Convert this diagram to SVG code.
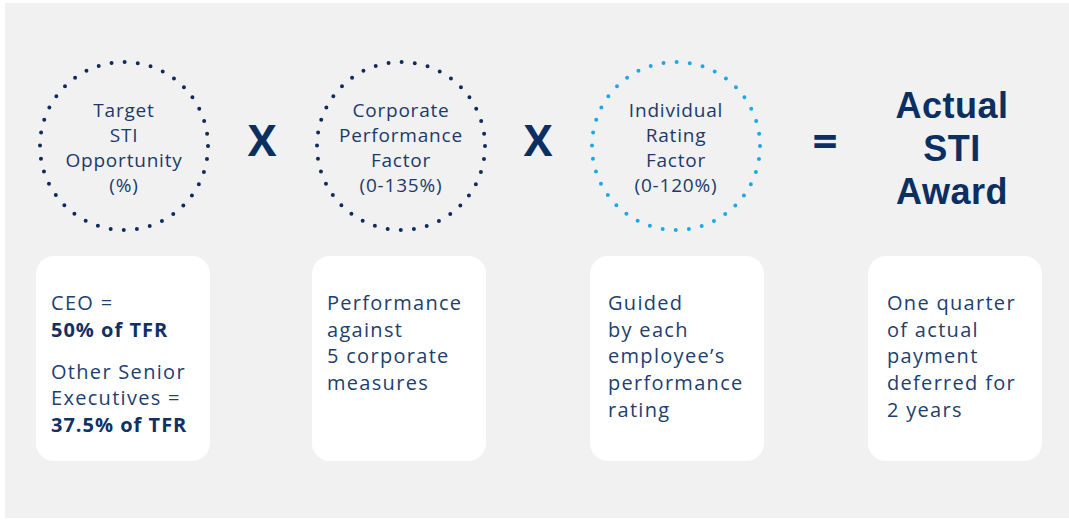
<svg xmlns="http://www.w3.org/2000/svg" width="1069" height="520" viewBox="0 0 1069 520">
<style>
.ring{fill:none;stroke-width:4;stroke-linecap:round;stroke-dasharray:0 13.195}
.navy{stroke:#0d2b5e}
.blue{stroke:#1ba8ea}
.ct{font-family:"Open Sans","Liberation Sans",sans-serif;font-size:19px;fill:#1b3a6a;text-anchor:middle;letter-spacing:0.8px}
.bt{font-family:"Open Sans","Liberation Sans",sans-serif;font-size:20px;fill:#1d406f;letter-spacing:1.3px}
.bb{font-weight:700;fill:#0f3263;letter-spacing:1px}
.box{fill:#ffffff}
.op{font-family:"Open Sans","Liberation Sans",sans-serif;font-weight:700;fill:#0b2f61;text-anchor:middle}
.aw{font-family:"Liberation Sans",Arial,sans-serif;font-weight:700;font-size:36px;fill:#0b2f61;text-anchor:middle;letter-spacing:0.5px}
</style>
<rect x="5" y="3" width="1064" height="515" fill="#f1f1f1"/>
<g id="target-sti">
<circle class="ring navy" cx="124" cy="146" r="84"/>
<text class="ct" x="124" y="117">Target</text>
<text class="ct" x="124" y="142">STI</text>
<text class="ct" x="124" y="167">Opportunity</text>
<text class="ct" x="124" y="192">(%)</text>
</g>
<g id="corporate-factor">
<circle class="ring navy" cx="401" cy="146" r="84"/>
<text class="ct" x="401" y="117">Corporate</text>
<text class="ct" x="401" y="142">Performance</text>
<text class="ct" x="401" y="167">Factor</text>
<text class="ct" x="401" y="192">(0-135%)</text>
</g>
<g id="individual-factor">
<circle class="ring blue" cx="676" cy="146" r="84"/>
<text class="ct" x="676" y="117">Individual</text>
<text class="ct" x="676" y="142">Rating</text>
<text class="ct" x="676" y="167">Factor</text>
<text class="ct" x="676" y="192">(0-120%)</text>
</g>
<g id="actual-award">
<text class="aw" x="952" y="118">Actual</text>
<text class="aw" x="952" y="161">STI</text>
<text class="aw" x="952" y="204">Award</text>
</g>
<g id="connectors">
<text class="op" x="262" y="156" font-size="43">X</text>
<text class="op" x="538" y="156" font-size="43">X</text>
<text class="op" x="825" y="157" font-size="44">=</text>
</g>
<g id="box-target">
<rect class="box" x="36" y="256" width="174" height="205" rx="18"/>
<text class="bt" x="51" y="310">CEO =</text>
<text class="bt bb" x="51" y="337">50% of TFR</text>
<text class="bt" x="51" y="379">Other Senior</text>
<text class="bt" x="51" y="405">Executives =</text>
<text class="bt bb" x="51" y="432">37.5% of TFR</text>
</g>
<g id="box-corporate">
<rect class="box" x="312" y="256" width="174" height="205" rx="18"/>
<text class="bt" x="327" y="310">Performance</text>
<text class="bt" x="327" y="337">against</text>
<text class="bt" x="327" y="363">5 corporate</text>
<text class="bt" x="327" y="390">measures</text>
</g>
<g id="box-individual">
<rect class="box" x="590" y="256" width="174" height="205" rx="18"/>
<text class="bt" x="608" y="310">Guided</text>
<text class="bt" x="608" y="337">by each</text>
<text class="bt" x="608" y="363">employee’s</text>
<text class="bt" x="608" y="390">performance</text>
<text class="bt" x="608" y="417">rating</text>
</g>
<g id="box-award">
<rect class="box" x="868" y="256" width="174" height="205" rx="18"/>
<text class="bt" x="887" y="310">One quarter</text>
<text class="bt" x="887" y="337">of actual</text>
<text class="bt" x="887" y="363">payment</text>
<text class="bt" x="887" y="390">deferred for</text>
<text class="bt" x="887" y="417">2 years</text>
</g>
</svg>
